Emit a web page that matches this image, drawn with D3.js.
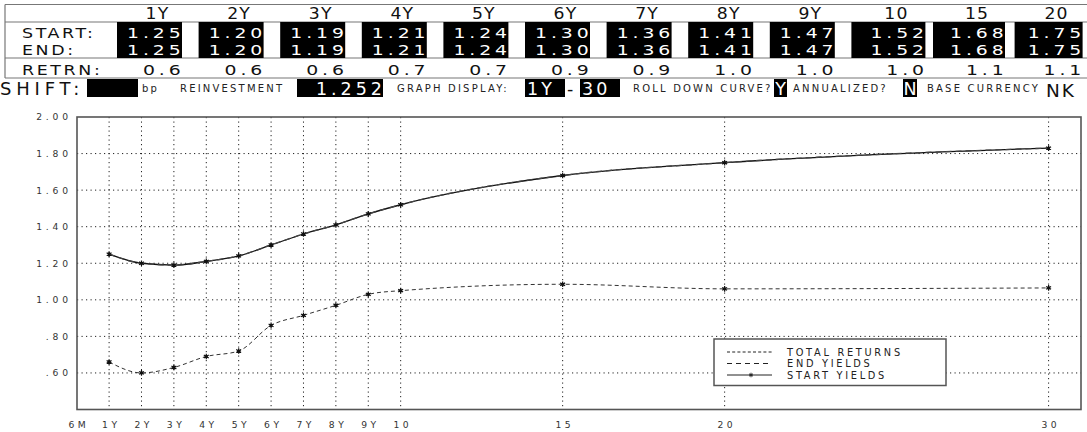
<!DOCTYPE html>
<html><head><meta charset="utf-8">
<script src="https://cdn.jsdelivr.net/npm/d3@7/dist/d3.min.js"></script>
<style>
html,body{margin:0;padding:0;background:#fff;}
svg{display:block;}
text{font-family:"DejaVu Sans",Verdana,sans-serif;}
</style></head><body>
<svg id="c" width="1087" height="432"></svg>
<script>
// ---- table data ----
const tenors = ["1Y","2Y","3Y","4Y","5Y","6Y","7Y","8Y","9Y","10","15","20"];
const startRow = [1.25,1.20,1.19,1.21,1.24,1.30,1.36,1.41,1.47,1.52,1.68,1.75];
const endRow   = [1.25,1.20,1.19,1.21,1.24,1.30,1.36,1.41,1.47,1.52,1.68,1.75];
const retrnRow = [0.6,0.6,0.6,0.7,0.7,0.9,0.9,1.0,1.0,1.0,1.1,1.1];
const rowLabels = ["START:","END:","RETRN:"];
// ---- settings row ----
const reinvestment = "1.252";
const displayFrom = "1Y", displayTo = "30";
const rollDown = "Y", annualized = "N", baseCurrency = "NK";
// ---- chart data ----
const xTickValues = [0,1,2,3,4,5,6,7,8,9,10,15,20,30];
const xTickLabels = ["6M","1Y","2Y","3Y","4Y","5Y","6Y","7Y","8Y","9Y","10","15","20","30"];
const yTickValues = [2.0,1.8,1.6,1.4,1.2,1.0,0.8,0.6];
const yTickLabels = ["2.00","1.80","1.60","1.40","1.20","1.00",".80",".60"];
const curveX = [1,2,3,4,5,6,7,8,9,10,15,20,30];
const startYields  = [1.25,1.20,1.19,1.21,1.24,1.30,1.36,1.41,1.47,1.52,1.68,1.75,1.83];
const endYields    = [1.25,1.20,1.19,1.21,1.24,1.30,1.36,1.41,1.47,1.52,1.68,1.75,1.83];
const totalReturns = [0.66,0.60,0.63,0.69,0.72,0.86,0.915,0.97,1.03,1.05,1.085,1.06,1.065];
const legendItems = ["TOTAL RETURNS","END YIELDS","START YIELDS"];

const svg = d3.select("#c");

// ===== table =====
const colX = i => 117 + i*81.6;
const boxWidth = i => i===9 ? 74 : i===10 ? 72 : i===11 ? 68 : 65;
const tbl = svg.append("g");
[4.5,22,58,78].forEach(y=>tbl.append("line").attr("x1",5).attr("x2",1087).attr("y1",y).attr("y2",y)
  .attr("stroke","#777").attr("stroke-width",1.2));
tbl.append("line").attr("x1",5).attr("x2",5).attr("y1",4.5).attr("y2",78).attr("stroke","#777").attr("stroke-width",1.2);

tbl.selectAll("rect.box").data(tenors).join("rect")
  .attr("x",(d,i)=>colX(i)).attr("y",22).attr("width",(d,i)=>boxWidth(i)).attr("height",36).attr("fill","#000");

const SX = 1.3;
tbl.selectAll("text.hdr").data(tenors).join("text")
  .attr("transform",(d,i)=>`translate(${colX(i)+boxWidth(i)/2+8},19) scale(1.15,1)`)
  .attr("text-anchor","middle")
  .attr("font-size",15).attr("letter-spacing",1).attr("fill","#111").text(d=>d);

rowLabels.forEach((l,j)=>{
  tbl.append("text").attr("transform",`translate(22,${[38,55,75][j]}) scale(1.2,1)`)
    .attr("font-size",14.5).attr("letter-spacing",2.2).attr("fill","#111").text(l);
});
const LS = 3;
const numRow = (arr, y, fill, fmt) => {
  tbl.selectAll(null).data(arr).join("text")
    .attr("transform",(d,i)=>`translate(${colX(i)+boxWidth(i)+(LS-1)*SX},${y}) scale(${SX},1)`)
    .attr("text-anchor","end")
    .attr("font-size",14.5).attr("letter-spacing",LS).attr("fill",fill).text(d=>fmt(d));
};
numRow(startRow,38,"#fff",d3.format(".2f"));
numRow(endRow,55,"#fff",d3.format(".2f"));
numRow(retrnRow,75,"#111",d3.format(".1f"));

// ===== settings row =====
const sr = svg.append("g");
const small = (x,t)=>sr.append("text").attr("x",x).attr("y",92).attr("font-size",10)
  .attr("letter-spacing",2.2).attr("fill","#222").text(t);
const blk = (x,w)=>sr.append("rect").attr("x",x).attr("y",79).attr("width",w).attr("height",18).attr("fill","#000");
const big = (x,t,fill,anchor)=>sr.append("text").attr("x",x).attr("y",95).attr("font-size",17.5)
  .attr("letter-spacing",3).attr("fill",fill).attr("text-anchor",anchor||"start").text(t);
big(0,"SHIFT:","#111").attr("font-size",18).attr("letter-spacing",4.8);
blk(87,51);
small(142,"bp");
small(180,"REINVESTMENT");
blk(297,86);
big(386,reinvestment,"#fff","end").attr("letter-spacing",4);
small(397,"GRAPH DISPLAY:");
blk(525,40);
big(527,displayFrom,"#fff");
big(567,"-","#111");
blk(580,40);
big(582,displayTo,"#fff");
small(633,"ROLL DOWN CURVE?");
blk(774,13);
big(780.5,rollDown,"#fff","middle").attr("letter-spacing",0);
small(793,"ANNUALIZED?");
blk(903,14);
big(910,annualized,"#fff","middle").attr("letter-spacing",0);
small(927,"BASE CURRENCY");
big(1046,baseCurrency,"#111").attr("y",97).attr("font-size",18.5).attr("letter-spacing",2);

// ===== chart =====
const L=77, R=1081, T=117, B=409.5;
const x = d3.scaleLinear().domain([0,31]).range([76.7,1081]);
const y = d3.scaleLinear().domain([0.4,2.0]).range([B,T]);
const ch = svg.append("g");

// grid
ch.selectAll("line.vg").data(xTickValues.filter(v=>v>0)).join("line")
  .attr("x1",d=>x(d)).attr("x2",d=>x(d)).attr("y1",T).attr("y2",B)
  .attr("stroke","#222").attr("stroke-width",1).attr("stroke-dasharray","1.2,3.3");
ch.selectAll("line.hg").data(yTickValues.filter(v=>v<2)).join("line")
  .attr("x1",L).attr("x2",R).attr("y1",d=>y(d)).attr("y2",d=>y(d))
  .attr("stroke","#222").attr("stroke-width",1).attr("stroke-dasharray","1.2,3.3");

// axes labels
const yAxis = d3.axisLeft(y).tickValues(yTickValues).tickSize(0).tickPadding(9)
  .tickFormat((d,i)=>yTickLabels[i]);
const ya = ch.append("g").attr("transform",`translate(${L},0)`).call(yAxis);
ya.select(".domain").remove();
ya.selectAll("text").attr("font-family","DejaVu Sans").attr("font-size",9.2)
  .attr("letter-spacing",3.8).attr("fill","#333").attr("dx",3.8);

const xAxis = d3.axisBottom(x).tickValues(xTickValues).tickSize(0).tickPadding(12)
  .tickFormat((d,i)=>xTickLabels[i]);
const xa = ch.append("g").attr("transform",`translate(0,${B})`).call(xAxis);
xa.select(".domain").remove();
xa.selectAll("text").attr("font-family","DejaVu Sans").attr("font-size",9.2)
  .attr("letter-spacing",3.5).attr("fill","#333").attr("dx",1.7);

// lines
const pts = arr => curveX.map((v,i)=>[v,arr[i]]);
const line = d3.line().x(d=>x(d[0])).y(d=>y(d[1])).curve(d3.curveMonotoneX);
ch.append("path").attr("d",line(pts(totalReturns))).attr("fill","none")
  .attr("stroke","#333").attr("stroke-width",1).attr("stroke-dasharray","4,3");
ch.append("path").attr("d",line(pts(startYields))).attr("fill","none")
  .attr("stroke","#111").attr("stroke-width",1.3);
ch.append("path").attr("d",line(pts(endYields))).attr("fill","none")
  .attr("stroke","#444").attr("stroke-width",1.3).attr("stroke-dasharray","6,4");

const star = d3.symbol().type(d3.symbolAsterisk).size(22);
[totalReturns,startYields].forEach(arr=>{
  ch.selectAll(null).data(pts(arr)).join("path")
    .attr("transform",d=>`translate(${x(d[0])},${y(d[1])})`)
    .attr("d",star).attr("stroke","#111").attr("stroke-width",1.2).attr("fill","none");
  ch.selectAll(null).data(pts(arr)).join("circle")
    .attr("cx",d=>x(d[0])).attr("cy",d=>y(d[1])).attr("r",1.6).attr("fill","#111");
});

// frame
ch.append("rect").attr("x",L).attr("y",T).attr("width",R-L).attr("height",B-T)
  .attr("fill","none").attr("stroke","#555").attr("stroke-width",1.6);

// legend
const lg = ch.append("g");
lg.append("rect").attr("x",714).attr("y",339).attr("width",232).attr("height",46.5)
  .attr("fill","#fff").attr("stroke","#555").attr("stroke-width",1.5);
const ly = [352, 363.5, 375];
const dashes = ["3,2.2","5,4",null];
legendItems.forEach((t,i)=>{
  const l = lg.append("line").attr("x1",727).attr("x2",772).attr("y1",ly[i]).attr("y2",ly[i])
    .attr("stroke","#222").attr("stroke-width",1);
  if(dashes[i]) l.attr("stroke-dasharray",dashes[i]);
  lg.append("text").attr("x",787).attr("y",ly[i]+3.5).attr("font-size",9.8)
    .attr("letter-spacing",2.7).attr("fill","#222").text(t);
});
lg.append("path").attr("transform",`translate(751,${ly[2]})`).attr("d",d3.symbol().type(d3.symbolAsterisk).size(14))
  .attr("stroke","#222").attr("stroke-width",1);
</script>
</body></html>
